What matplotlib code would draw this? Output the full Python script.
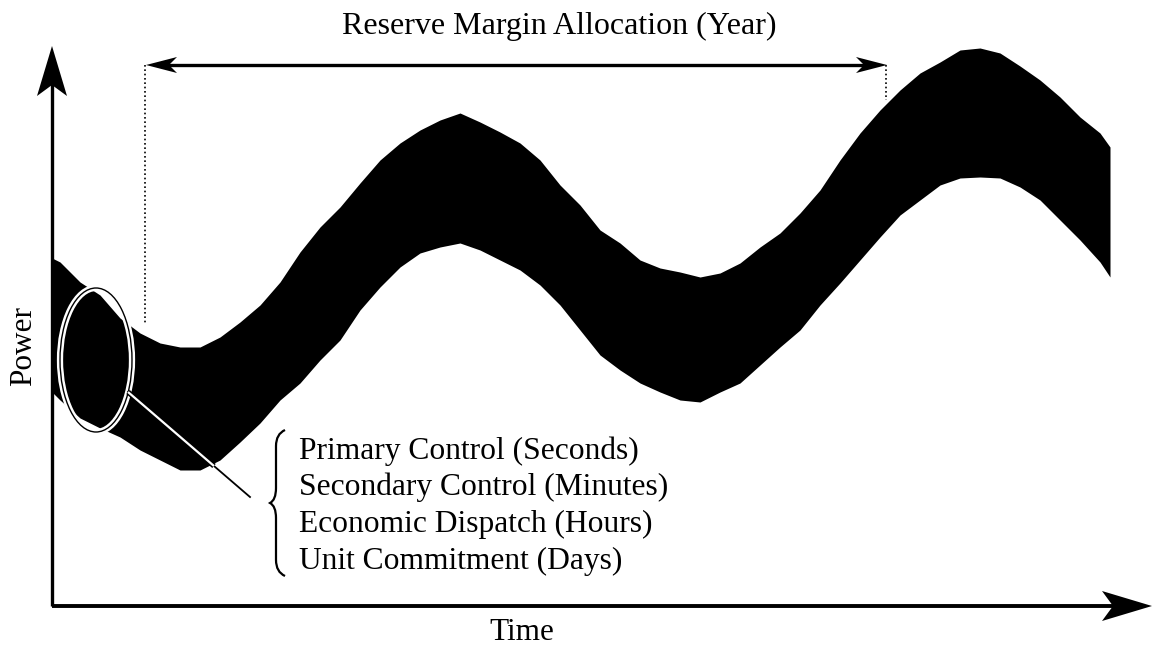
import matplotlib
matplotlib.use("Agg")
import matplotlib.pyplot as plt
from matplotlib.patches import Polygon, Ellipse, PathPatch
from matplotlib.path import Path

plt.rcParams['font.family'] = ['Liberation Serif', 'DejaVu Serif']

# band of the load signal (time, upper / lower power)
time = [52, 60, 80, 100, 120, 140, 160, 180, 200, 220, 240, 260, 280, 300,
        320, 340, 360, 380, 400, 420, 440, 460, 480, 500, 520, 540, 560, 580,
        600, 620, 640, 660, 680, 700, 720, 740, 760, 780, 800, 820, 840, 860,
        880, 900, 920, 940, 960, 980, 1000, 1020, 1040, 1060, 1080, 1100, 1110]
upper = [348, 344, 324, 311, 288, 273, 263, 259, 259, 269, 284, 301, 324, 354,
         379, 399, 423, 446, 463, 476, 486, 493, 484, 474, 463, 446, 421, 401,
         376, 363, 346, 338, 334, 329, 333, 343, 359, 373, 393, 416, 446, 473,
         496, 516, 533, 544, 556, 558, 553, 540, 526, 509, 489, 473, 459]
lower = [214, 206, 188, 178, 169, 156, 146, 136, 136, 146, 164, 183, 206, 223,
         246, 266, 296, 319, 339, 353, 359, 363, 356, 346, 336, 321, 301, 276,
         251, 236, 223, 214, 206, 204, 214, 223, 241, 259, 276, 301, 323, 346,
         369, 391, 406, 421, 428, 429, 428, 419, 406, 386, 366, 344, 329]

control_levels = ["Primary Control (Seconds)",
                  "Secondary Control (Minutes)",
                  "Economic Dispatch (Hours)",
                  "Unit Commitment (Days)"]

fig = plt.figure(figsize=(11.54, 6.47), dpi=100)
ax = fig.add_axes([0, 0, 1, 1])
ax.set_xlim(0, 1154)
ax.set_ylim(-41, 606)
ax.axis("off")

ax.fill_between(time, lower, upper, color="black", lw=0)

# axes with arrowheads
ax.plot([52, 52], [0, 530], color="black", lw=2.4, solid_capstyle="butt")
ax.add_patch(Polygon([(52, 560), (67, 510), (52, 521), (37, 510)],
                     closed=True, color="black", lw=0))
ax.plot([52, 1120], [0, 0], color="black", lw=2.8, solid_capstyle="butt")
ax.add_patch(Polygon([(1152, 0), (1102, 15), (1113, 0), (1102, -15)],
                     closed=True, color="black", lw=0))

ax.text(24, 260, "Power", rotation=90, ha="center", va="center", fontsize=22.5)
ax.text(522, -26, "Time", ha="center", va="center", fontsize=22.5)

# yearly allocation arrow
ax.plot([165, 868], [541, 541], color="black", lw=2.4, solid_capstyle="butt")
ax.add_patch(Polygon([(146, 541), (177, 549), (169, 541), (177, 533)],
                     closed=True, color="black", lw=0))
ax.add_patch(Polygon([(887, 541), (856, 549), (864, 541), (856, 533)],
                     closed=True, color="black", lw=0))
ax.plot([145, 145], [541, 281], color="black", lw=1.2, ls=(0, (1, 1.6)))
ax.plot([886, 886], [541, 506], color="black", lw=1.2, ls=(0, (1, 1.6)))
ax.text(559, 580, "Reserve Margin Allocation (Year)", ha="center",
        va="center", fontsize=23)

# zoom ellipse with connector
ax.add_patch(Ellipse((96, 246), 72, 144, fill=False, ec="white", lw=4.5))
ax.add_patch(Ellipse((96, 246), 72, 144, fill=False, ec="black", lw=1.0))
ax.plot([128, 250], [214, 109], color="black", lw=1.3)
ax.plot([128, 214], [214, 140], color="black", lw=3.8, solid_capstyle="butt")
ax.plot([128, 214], [214, 140], color="white", lw=1.6, solid_capstyle="butt")

# curly brace
brace = Path([(285, 176), (276, 172), (276, 160), (276, 150),
              (276, 118), (276, 106), (270, 103),
              (276, 100), (276, 88), (276, 58),
              (276, 46), (276, 34), (285, 30)],
             [Path.MOVETO, Path.CURVE3, Path.CURVE3, Path.LINETO,
              Path.LINETO, Path.CURVE3, Path.CURVE3,
              Path.CURVE3, Path.CURVE3, Path.LINETO,
              Path.LINETO, Path.CURVE3, Path.CURVE3])
ax.add_patch(PathPatch(brace, fill=False, ec="black", lw=1.6))

for i, label in enumerate(control_levels):
    ax.text(299, 147 - i * 36.5, label, ha="left", va="baseline", fontsize=22.7)

fig.savefig("out.png", dpi=100)
